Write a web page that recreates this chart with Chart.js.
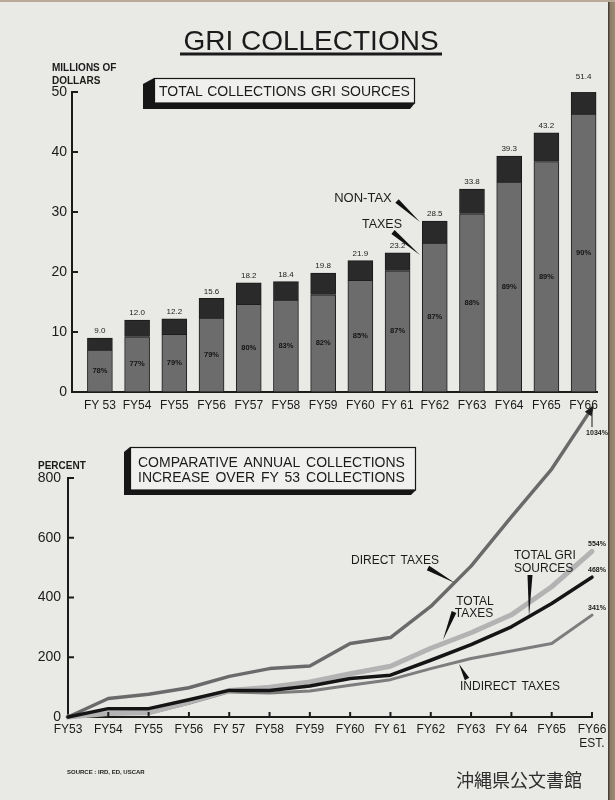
<!DOCTYPE html>
<html><head><meta charset="utf-8">
<script src="https://cdn.jsdelivr.net/npm/chart.js@4.4.1/dist/chart.umd.min.js"></script>
<style>
html,body{margin:0;padding:0;}
body{width:615px;height:800px;position:relative;overflow:hidden;background:#e9e9e6;font-family:"Liberation Sans",Arial,sans-serif;}
canvas{position:absolute;left:0;}
#bars{top:0;}
#lines{top:380px;}
#overlay{position:absolute;left:0;top:0;}
#edgeR{position:absolute;left:608px;top:0;width:7px;height:800px;background:linear-gradient(90deg,#4a4038 0,#4a4038 1px,#8e7d69 2px,#9c8a74 100%);}
#edgeT{position:absolute;left:0;top:0;width:615px;height:2px;background:#b9ab97;}
</style></head><body>
<canvas id="bars" width="615" height="420"></canvas>
<canvas id="lines" width="615" height="380"></canvas>
<svg id="overlay" width="615" height="800" font-family="'Liberation Sans', Arial, sans-serif" fill="#1b1b1b">
  <text x="311" y="40.5" font-size="28" text-anchor="middle" dominant-baseline="central">GRI COLLECTIONS</text>
  <rect x="180" y="52.5" width="262" height="3"/>
  <text x="52" y="67" font-size="10" font-weight="bold" dominant-baseline="central">MILLIONS OF</text>
  <text x="52" y="80" font-size="10" font-weight="bold" dominant-baseline="central">DOLLARS</text>
  <polygon points="154,78 143,84 143,109 410,109 415,103" fill="#161616"/>
  <rect x="154.5" y="78.5" width="260" height="24.5" fill="#f0f0ee" stroke="#161616" stroke-width="1.2"/>
  <text x="159" y="91" font-size="14" word-spacing="1" dominant-baseline="central">TOTAL COLLECTIONS GRI SOURCES</text>
  <text x="363" y="197" font-size="13" text-anchor="middle" dominant-baseline="central">NON-TAX</text>
  <text x="382" y="224" font-size="12.5" text-anchor="middle" dominant-baseline="central">TAXES</text>
  <polygon points="395.3,202.8 398.7,199.2 420,222" fill="#111"/>
  <polygon points="391.4,233.9 394.6,230.1 420,255" fill="#111"/>
  <text x="38" y="465" font-size="10" font-weight="bold" dominant-baseline="central">PERCENT</text>
  <polygon points="130,447 124,452 124,495 411,495 416,490" fill="#161616"/>
  <rect x="130.5" y="447.5" width="285" height="42.5" fill="#f0f0ee" stroke="#161616" stroke-width="1.2"/>
  <text x="138" y="462" font-size="14" word-spacing="2.5" dominant-baseline="central">COMPARATIVE ANNUAL COLLECTIONS</text>
  <text x="138" y="477" font-size="14" word-spacing="2" dominant-baseline="central">INCREASE OVER FY 53 COLLECTIONS</text>
  <text x="395" y="560" font-size="12" word-spacing="2" text-anchor="middle" dominant-baseline="central">DIRECT TAXES</text>
  <polygon points="426.8,570.2 429.2,565.8 455,583" fill="#111"/>
  <text x="475" y="601" font-size="12" text-anchor="middle" dominant-baseline="central">TOTAL</text>
  <text x="474" y="613" font-size="12" text-anchor="middle" dominant-baseline="central">TAXES</text>
  <polygon points="456.3,612.9 451.7,611.1 443,640" fill="#111"/>
  <text x="514" y="555" font-size="12" dominant-baseline="central">TOTAL GRI</text>
  <text x="514" y="568" font-size="12" dominant-baseline="central">SOURCES</text>
  <polygon points="527.5,575 532.5,575 529,617" fill="#111"/>
  <text x="510" y="686" font-size="12" word-spacing="2" text-anchor="middle" dominant-baseline="central">INDIRECT TAXES</text>
  <polygon points="469.2,677.8 464.8,680.2 459,664" fill="#111"/>
  <text x="67" y="772" font-size="6" font-weight="bold" dominant-baseline="central">SOURCE :  IRD, ED, USCAR</text>
  <text x="519" y="779" font-size="18" text-anchor="middle" dominant-baseline="central" font-family="'Noto Sans CJK JP', sans-serif" fill="#2e2e2e">沖縄県公文書館</text>
</svg>
<div id="edgeR"></div><div id="edgeT"></div>
<script>
// ---------- Data: top chart (millions of dollars) ----------
const barCategories = ['FY 53','FY54','FY55','FY56','FY57','FY58','FY59','FY60','FY 61','FY62','FY63','FY64','FY65','FY66'];
const totalCollections = [9.0, 12.0, 12.2, 15.6, 18.2, 18.4, 19.8, 21.9, 23.2, 28.5, 33.8, 39.3, 43.2, 51.4];
const taxes  = [7.0, 9.2, 9.6, 12.3, 14.6, 15.3, 16.2, 18.6, 20.2, 24.8, 29.7, 35.0, 38.4, 46.3];
const nonTax = [2.0, 2.8, 2.6, 3.3, 3.6, 3.1, 3.6, 3.3, 3.0, 3.7, 4.1, 4.3, 4.8, 5.1];
const taxSharePct = [78, 77, 79, 79, 80, 83, 82, 85, 87, 87, 88, 89, 89, 90];
const barTicks = [0, 10, 20, 30, 40, 50];

// ---------- Data: bottom chart (percent increase over FY53) ----------
const lineCategories = ['FY53','FY54','FY55','FY56','FY 57','FY58','FY59','FY60','FY 61','FY62','FY63','FY 64','FY65',['FY66','EST.']];
const totalGRI      = [0, 28, 28, 58, 89, 89, 104, 129, 140, 190, 242, 302, 380, 468];
const directTaxes   = [0, 62, 76, 98, 136, 162, 171, 246, 266, 370, 505, 670, 830, 1034];
const totalTaxes    = [0, 12, 14, 50, 89, 100, 117, 145, 170, 230, 282, 342, 436, 554];
const indirectTaxes = [0, 12, 12, 46, 84, 80, 87, 106, 125, 162, 196, 221, 246, 341];
const lineTicks = [0, 200, 400, 600, 800];

const ink = '#1b1b1b';
Chart.defaults.font.family = '"Liberation Sans", Arial, sans-serif';
Chart.defaults.color = ink;

const barDecor = {
  id: 'barDecor',
  afterDatasetsDraw(chart) {
    const ctx = chart.ctx;
    const m0 = chart.getDatasetMeta(0), m1 = chart.getDatasetMeta(1);
    ctx.save();
    ctx.textAlign = 'center';
    ctx.fillStyle = ink;
    ctx.font = '8px "Liberation Sans", Arial, sans-serif';
    ctx.textBaseline = 'bottom';
    m1.data.forEach((el, i) => ctx.fillText(totalCollections[i].toFixed(1), el.x, el.y - 3));
    ctx.font = 'bold 7.5px "Liberation Sans", Arial, sans-serif';
    ctx.textBaseline = 'middle';
    ctx.fillStyle = '#141414';
    m0.data.forEach((el, i) => ctx.fillText(taxSharePct[i] + '%', el.x, (el.y + el.base) / 2));
    const y = chart.scales.y, a = chart.chartArea;
    ctx.strokeStyle = ink; ctx.lineWidth = 2;
    barTicks.slice(1).forEach(v => {
      const py = y.getPixelForValue(v);
      ctx.beginPath(); ctx.moveTo(a.left - 1, py); ctx.lineTo(a.left + 6, py); ctx.stroke();
    });
    ctx.restore();
  }
};

new Chart(document.getElementById('bars'), {
  type: 'bar',
  data: {
    datasets: [
      { label: 'Taxes', data: taxes.map((v, i) => ({ x: i, y: v })), backgroundColor: '#6c6c6c', borderColor: '#1e1e1e', borderWidth: 1, barThickness: 25 },
      { label: 'Non-tax', data: nonTax.map((v, i) => ({ x: i, y: v })), backgroundColor: '#2a2a2a', borderColor: '#1a1a1a', borderWidth: 1, barThickness: 25 }
    ]
  },
  options: {
    responsive: false, animation: false,
    layout: { padding: { top: 92, right: 18, left: 0, bottom: 0 } },
    plugins: { legend: { display: false }, tooltip: { enabled: false } },
    scales: {
      x: {
        type: 'linear', min: -0.75, max: 13.36, stacked: true, offset: false,
        afterBuildTicks: s => { s.ticks = barCategories.map((c, i) => ({ value: i })); },
        ticks: { autoSkip: false, maxRotation: 0, padding: 6, color: ink, font: { size: 12 }, callback: v => barCategories[v] },
        grid: { drawOnChartArea: false, drawTicks: false },
        border: { color: ink, width: 2 },
        afterFit: s => { s.height = 28; }
      },
      y: {
        min: 0, max: 50, stacked: true,
        afterBuildTicks: s => { s.ticks = barTicks.map(v => ({ value: v })); },
        ticks: { padding: 5, color: ink, font: { size: 14 } },
        grid: { drawOnChartArea: false, drawTicks: false },
        border: { color: ink, width: 2 },
        afterFit: s => { s.width = 72; }
      }
    }
  },
  plugins: [barDecor]
});

const lineDecor = {
  id: 'lineDecor',
  afterDatasetsDraw(chart) {
    const ctx = chart.ctx, a = chart.chartArea;
    const x = chart.scales.x, y = chart.scales.y;
    ctx.save();
    ctx.strokeStyle = ink; ctx.lineWidth = 2;
    lineTicks.slice(1).forEach(v => {
      const py = y.getPixelForValue(v);
      ctx.beginPath(); ctx.moveTo(a.left - 1, py); ctx.lineTo(a.left + 6, py); ctx.stroke();
    });
    for (let i = 1; i < lineCategories.length; i++) {
      const px = x.getPixelForValue(i);
      ctx.beginPath(); ctx.moveTo(px, a.bottom + 1); ctx.lineTo(px, a.bottom - 5); ctx.stroke();
    }
    ctx.fillStyle = ink;
    ctx.font = 'bold 7px "Liberation Sans", Arial, sans-serif';
    ctx.textAlign = 'center'; ctx.textBaseline = 'middle';
    chart.data.datasets.forEach((ds, di) => {
      const meta = chart.getDatasetMeta(di);
      const last = meta.data[meta.data.length - 1];
      const val = ds.data[ds.data.length - 1];
      const dy = val > 800 ? 25 : -7;
      ctx.fillText(val + '%', 597, last.y + dy);
      if (val > 800) {
        const prev = meta.data[meta.data.length - 2];
        const ang = Math.atan2(last.y - prev.y, last.x - prev.x);
        ctx.beginPath();
        ctx.moveTo(last.x + 3 * Math.cos(ang), last.y + 3 * Math.sin(ang));
        ctx.lineTo(last.x - 7 * Math.cos(ang) + 4 * Math.sin(ang), last.y - 7 * Math.sin(ang) - 4 * Math.cos(ang));
        ctx.lineTo(last.x - 7 * Math.cos(ang) - 4 * Math.sin(ang), last.y - 7 * Math.sin(ang) + 4 * Math.cos(ang));
        ctx.closePath(); ctx.fill();
        ctx.lineWidth = 1;
        ctx.beginPath(); ctx.moveTo(last.x, last.y + 2); ctx.lineTo(last.x, last.y + 19); ctx.stroke();
      }
    });
    ctx.restore();
  }
};

new Chart(document.getElementById('lines'), {
  type: 'line',
  data: {
    labels: lineCategories,
    datasets: [
      { label: 'TOTAL GRI SOURCES', data: totalGRI, borderColor: '#151515', borderWidth: 3.5, clip: false },
      { label: 'DIRECT TAXES', data: directTaxes, borderColor: '#6a6a6a', borderWidth: 3.5, clip: false },
      { label: 'TOTAL TAXES', data: totalTaxes, borderColor: '#b3b3b3', borderWidth: 5, clip: false },
      { label: 'INDIRECT TAXES', data: indirectTaxes, borderColor: '#7d7d7d', borderWidth: 3, clip: false }
    ]
  },
  options: {
    responsive: false, animation: false,
    elements: { point: { radius: 0 }, line: { tension: 0, borderJoinStyle: 'round', borderCapStyle: 'round' } },
    layout: { padding: { top: 98, right: 23, left: 0, bottom: 0 } },
    plugins: { legend: { display: false }, tooltip: { enabled: false } },
    scales: {
      x: {
        offset: false,
        grid: { drawOnChartArea: false, drawTicks: false },
        border: { color: ink, width: 2 },
        ticks: { autoSkip: false, maxRotation: 0, padding: 5, color: ink, font: { size: 12 } },
        afterFit: s => { s.height = 43; }
      },
      y: {
        min: 0, max: 800,
        afterBuildTicks: s => { s.ticks = lineTicks.map(v => ({ value: v })); },
        ticks: { padding: 7, color: ink, font: { size: 14 } },
        grid: { drawOnChartArea: false, drawTicks: false },
        border: { color: ink, width: 2 },
        afterFit: s => { s.width = 68; }
      }
    }
  },
  plugins: [lineDecor]
});
</script>
</body></html>
